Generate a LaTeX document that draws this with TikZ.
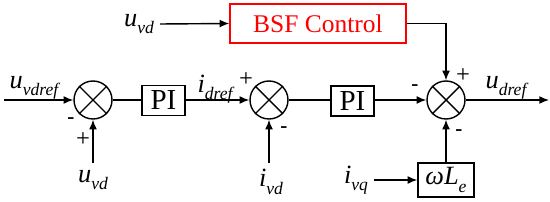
\documentclass[tikz,border=0pt]{standalone}
\usepackage{fontspec}
\setmainfont{Liberation Serif}
\usetikzlibrary{arrows.meta,positioning,calc}

\newcommand{\sig}[2]{\textit{#1}\raisebox{-0.28em}{\fontsize{10}{11}\selectfont\textit{#2}}}

\begin{document}
\begin{tikzpicture}[
    x=0.02cm, y=-0.02cm,
    font=\fontsize{15}{17}\selectfont,
    sumnode/.style={draw, circle, line width=0.8pt, minimum size=0.76cm, inner sep=0pt},
    ctrlbox/.style={draw, line width=0.8pt, minimum width=0.86cm, minimum height=0.6cm, inner sep=1pt},
    bsfbox/.style={draw=red, text=red, line width=0.8pt, minimum width=3.52cm, minimum height=0.78cm, font=\fontsize{14.5}{17}\selectfont},
    sign/.style={inner sep=0pt, font=\fontsize{12}{14}\selectfont\bfseries},
    wire/.style={-{Latex[length=5.5pt,width=4.5pt]}, line width=0.8pt},
    line/.style={line width=0.8pt}
]
    \useasboundingbox (0,0) rectangle (550,202);

    % Summing junctions
    \node[sumnode] (s1) at (93,100) {};
    \node[sumnode] (s2) at (269,100) {};
    \node[sumnode] (s3) at (446,100) {};
    \foreach \s in {s1,s2,s3} {
        \draw[line] (\s.north east) -- (\s.south west);
        \draw[line] (\s.north west) -- (\s.south east);
    }

    % Blocks
    \node[ctrlbox, font=\fontsize{16.5}{18}\selectfont] (pi1) at (163.5,100.5) {PI};
    \node[ctrlbox, font=\fontsize{16.5}{18}\selectfont] (pi2) at (352.5,101) {PI};
    \node[bsfbox] (bsf) at (318,23.5) {BSF Control};
    \node[ctrlbox, minimum width=1.12cm, minimum height=0.68cm] (wl) at (446,180) {\textit{ω}\sig{L}{e}};

    % Inputs and outputs
    \coordinate (in1) at (4,100);
    \coordinate (out) at (549,100);
    \coordinate (fb1) at (93,163);
    \coordinate (fb2) at (269,163);
    \node (uvdref) at (35,88) {\sig{u}{vdref}};
    \node (uvd1) at (93,180) {\sig{u}{vd}};
    \node (ivd) at (271,182) {\sig{i}{vd}};
    \node (uvd2) at (139,24) {\sig{u}{vd}};
    \node (ivq) at (356,180) {\sig{i}{vq}};
    \node (idref) at (216,89) {\sig{i}{dref}};
    \node (udref) at (507,88) {\sig{u}{dref}};

    % Signs
    \node[sign] (m1) at (71,121) {-};
    \node[sign, font=\fontsize{14}{16}\selectfont] (p1) at (83,140) {+};
    \node[sign, font=\fontsize{14}{16}\selectfont] (p2) at (246,80) {+};
    \node[sign] (m2) at (284,130) {-};
    \node[sign] (m3) at (415,88) {-};
    \node[sign, font=\fontsize{14}{16}\selectfont] (p3) at (463,76) {+};
    \node[sign] (m4) at (459,133) {-};

    % Connections
    \draw[wire] (in1) -- (s1.west);
    \draw[wire] (fb1) -- (s1.south);
    \draw[line] (s1.east) -- (pi1.west |- s1.east);
    \draw[wire] (pi1.east |- s2.west) -- (s2.west);
    \draw[wire] (fb2) -- (s2.south);
    \draw[line] (s2.east) -- (pi2.west |- s2.east);
    \draw[wire] (pi2.east |- s3.west) -- (s3.west);
    \draw[wire] (uvd2.east) -- (bsf.west);
    \draw[wire] (bsf.east) -| (s3.north);
    \draw[wire] (ivq.east) -- (wl.west);
    \draw[wire] (wl.north) -- (s3.south);
    \draw[wire] (s3.east) -- (out);

\end{tikzpicture}
\end{document}
